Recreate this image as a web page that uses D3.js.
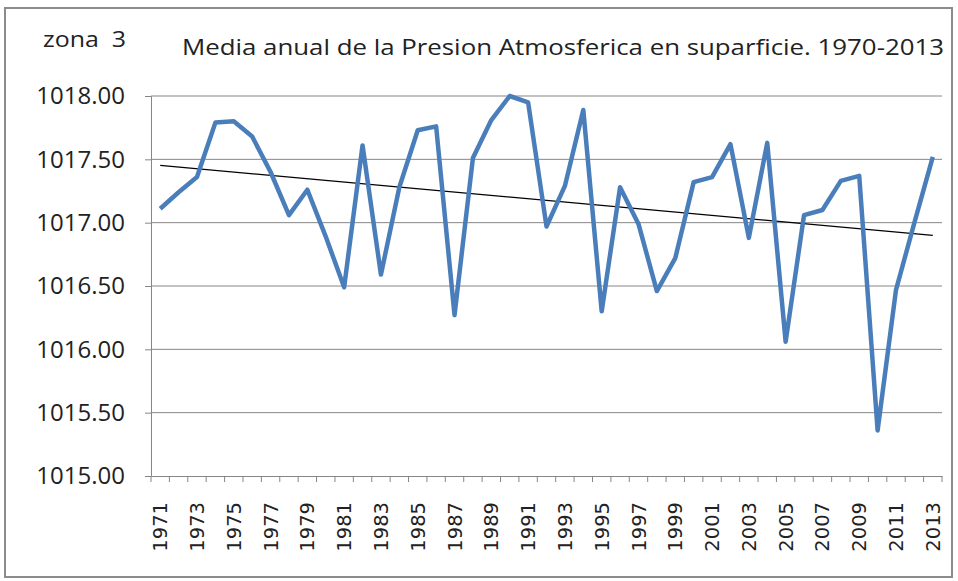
<!DOCTYPE html>
<html><head><meta charset="utf-8">
<script src="https://cdn.jsdelivr.net/npm/d3@7"></script>
<style>body{margin:0;background:#fff}svg{display:block}</style>
</head><body><svg id="c" width="958" height="581"></svg>
<script>
const years = d3.range(1971, 2014).map(String);
const pressure = [1017.11,1017.24,1017.36,1017.79,1017.80,1017.68,1017.40,1017.06,1017.26,1016.89,
1016.49,1017.61,1016.59,1017.28,1017.73,1017.76,1016.27,1017.51,1017.81,1018.00,
1017.95,1016.97,1017.29,1017.89,1016.30,1017.28,1016.99,1016.46,1016.72,1017.32,
1017.36,1017.62,1016.88,1017.63,1016.06,1017.06,1017.10,1017.33,1017.37,1015.36,
1016.47,1017.00,1017.52];
const yTicks = [1015.00,1015.50,1016.00,1016.50,1017.00,1017.50,1018.00];
const titleText = "Media anual de la Presion Atmosferica en suparficie. 1970-2013";
const zoneText = "zona  3";

const svg = d3.select("#c");
svg.append("rect").attr("x",5).attr("y",8).attr("width",947).attr("height",569)
  .attr("fill","#fff").attr("stroke","#8c8c8c").attr("stroke-width",2);

const L=151, R=942, T=96, B=476;
const x = d3.scaleBand().domain(years).range([L,R]);
const y = d3.scaleLinear().domain([1015,1018]).range([B,T]);

// gridlines
svg.append("g").selectAll("line").data(yTicks.slice(1)).join("line")
  .attr("x1",L).attr("x2",R).attr("y1",d=>y(d)).attr("y2",d=>y(d))
  .attr("stroke","#868686").attr("stroke-width",1);

// y axis
const ya = svg.append("g").attr("transform",`translate(${L},0)`)
  .call(d3.axisLeft(y).tickValues(yTicks).tickFormat(d3.format(".2f")).tickSize(6).tickPadding(20));
ya.select(".domain").attr("stroke","#868686");
ya.selectAll(".tick line").attr("stroke","#868686");
ya.selectAll("text").attr("font-family","Open Sans, sans-serif").attr("font-size",24).attr("fill","#222");

// x axis
const xa = svg.append("g").attr("transform",`translate(0,${B})`)
  .call(d3.axisBottom(x).tickValues([]).tickSize(0));
xa.select(".domain").attr("stroke","#868686");
const bounds = years.map(d=>x(d)).concat([R]);
svg.append("g").selectAll("line").data(bounds).join("line")
  .attr("x1",d=>d).attr("x2",d=>d).attr("y1",B).attr("y2",B+6)
  .attr("stroke","#868686");
svg.append("g").selectAll("text").data(years.filter((d,i)=>i%2===0)).join("text")
  .attr("transform",d=>`translate(${x(d)+x.bandwidth()/2},${B+26}) rotate(-90)`)
  .attr("dy","0.36em")
  .attr("text-anchor","end").attr("font-family","DejaVu Sans, sans-serif")
  .attr("font-size",19.5).attr("fill","#222").text(d=>d);

// trend line (least squares)
const n = pressure.length, xs = d3.range(n);
const mx = d3.mean(xs), my = d3.mean(pressure);
const slope = d3.sum(xs.map(i=>(i-mx)*(pressure[i]-my)))/d3.sum(xs.map(i=>(i-mx)*(i-mx)));
const icpt = my - slope*mx;
const cx = i => x(years[i]) + x.bandwidth()/2;
svg.append("line").attr("x1",cx(0)).attr("x2",cx(n-1))
  .attr("y1",y(icpt)).attr("y2",y(icpt+slope*(n-1)))
  .attr("stroke","#000").attr("stroke-width",1.2);

// data line
svg.append("path").datum(pressure)
  .attr("d", d3.line().x((d,i)=>cx(i)).y(d=>y(d)))
  .attr("fill","none").attr("stroke","#4a7ebb").attr("stroke-width",4.5)
  .attr("stroke-linejoin","round");

// titles
svg.append("text").attr("x",43).attr("y",47).attr("font-family","Open Sans, sans-serif")
  .attr("font-size",22).attr("fill","#222").attr("textLength",83).attr("lengthAdjust","spacingAndGlyphs")
  .style("white-space","pre").text(zoneText);
svg.append("text").attr("x",182).attr("y",55).attr("font-family","Open Sans, sans-serif")
  .attr("font-size",21).attr("fill","#222").attr("textLength",762).attr("lengthAdjust","spacingAndGlyphs").text(titleText);
</script></body></html>
